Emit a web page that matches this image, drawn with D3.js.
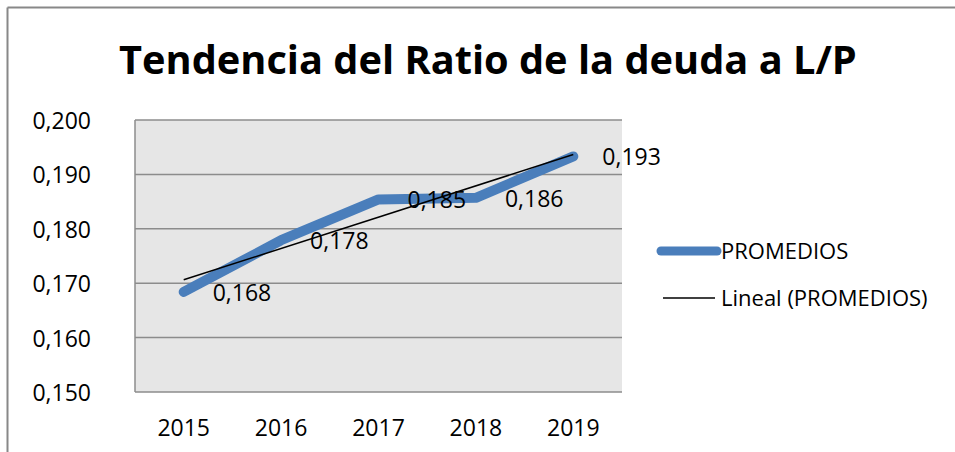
<!DOCTYPE html>
<html>
<head>
<meta charset="utf-8">
<script src="https://cdn.jsdelivr.net/npm/d3@7"></script>
<style>
  html, body { margin: 0; padding: 0; background: #fff; }
  svg text { font-family: "Open Sans", "Noto Sans", sans-serif; fill: #000; }
</style>
</head>
<body>
<svg id="chart" width="955" height="452"></svg>
<script>
const years = ['2015', '2016', '2017', '2018', '2019']
const promedios = [0.1684, 0.1779, 0.1854, 0.1857, 0.1933]
const valueLabels = ['0,168', '0,178', '0,185', '0,186', '0,193']
const yTicks = [0.150, 0.160, 0.170, 0.180, 0.190, 0.200]
const title = 'Tendencia del Ratio de la deuda a L/P'
const seriesName = 'PROMEDIOS'
const trendName = 'Lineal (PROMEDIOS)'

const width = 955
const height = 452
const margin = { top: 120, right: 333, bottom: 60, left: 135 }

const svg = d3.select('#chart')

// outer chart frame (only top and left show in the crop)
svg.append('line')
  .attr('x1', 7.5).attr('x2', width).attr('y1', 7.5).attr('y2', 7.5)
  .attr('stroke', '#888').attr('stroke-width', 2)
svg.append('line')
  .attr('x1', 7.5).attr('x2', 7.5).attr('y1', 7.5).attr('y2', height)
  .attr('stroke', '#888').attr('stroke-width', 2)

// title, sized to span the same width as the original
const titleText = svg.append('text')
  .attr('x', 119).attr('y', 74)
  .attr('font-weight', 'bold')
  .attr('font-size', 40)
  .text(title)
const tw = titleText.node().getComputedTextLength()
titleText.attr('font-size', 40 * 738 / tw)

const x = d3.scalePoint()
  .domain(years)
  .range([margin.left, width - margin.right])
  .padding(0.5)

const y = d3.scaleLinear()
  .domain([0.150, 0.200])
  .range([height - margin.bottom, margin.top])

const fmt = d => d3.format('.3f')(d).replace('.', ',')

// plot area
svg.append('rect')
  .attr('x', margin.left).attr('y', margin.top)
  .attr('width', width - margin.right - margin.left)
  .attr('height', height - margin.bottom - margin.top)
  .attr('fill', '#e6e6e6')

svg.append('g')
  .selectAll('line')
  .data(yTicks)
  .join('line')
    .attr('x1', margin.left).attr('x2', width - margin.right)
    .attr('y1', d => y(d)).attr('y2', d => y(d))
    .attr('stroke', '#8c8c8c').attr('stroke-width', 1.5)

svg.append('line')
  .attr('x1', margin.left).attr('x2', margin.left)
  .attr('y1', margin.top).attr('y2', height - margin.bottom)
  .attr('stroke', '#8c8c8c').attr('stroke-width', 1.5)

// y axis labels
svg.append('g')
  .selectAll('text')
  .data(yTicks)
  .join('text')
    .attr('x', 91)
    .attr('y', d => y(d) + 1)
    .attr('dy', '0.35em')
    .attr('text-anchor', 'end')
    .attr('font-size', 23)
    .text(fmt)

// x axis labels
svg.append('g')
  .selectAll('text')
  .data(years)
  .join('text')
    .attr('x', d => x(d))
    .attr('y', 428)
    .attr('dy', '0.35em')
    .attr('text-anchor', 'middle')
    .attr('font-size', 23)
    .text(d => d)

const points = years.map((yr, i) => ({ year: yr, value: promedios[i], label: valueLabels[i] }))

const line = d3.line()
  .x(d => x(d.year))
  .y(d => y(d.value))

svg.append('path')
  .datum(points)
  .attr('fill', 'none')
  .attr('stroke', '#4a7ebb')
  .attr('stroke-width', 10)
  .attr('stroke-linejoin', 'round')
  .attr('stroke-linecap', 'round')
  .attr('d', line)

// linear trend (least squares on the series)
const n = promedios.length
const xs = d3.range(n)
const mx = d3.mean(xs)
const my = d3.mean(promedios)
const slope = d3.sum(xs, i => (i - mx) * (promedios[i] - my)) / d3.sum(xs, i => (i - mx) * (i - mx))
const intercept = my - slope * mx
const trend = [0, n - 1].map(i => ({ year: years[i], value: intercept + slope * i }))

svg.append('path')
  .datum(trend)
  .attr('fill', 'none')
  .attr('stroke', '#000')
  .attr('stroke-width', 1.5)
  .attr('d', line)

// data labels, right of each point
svg.append('g')
  .selectAll('text')
  .data(points)
  .join('text')
    .attr('x', d => x(d.year) + 29)
    .attr('y', d => y(d.value) + 1)
    .attr('dy', '0.35em')
    .attr('font-size', 23)
    .text(d => d.label)

// legend
const legend = svg.append('g')
legend.append('line')
  .attr('x1', 661).attr('x2', 717).attr('y1', 251).attr('y2', 251)
  .attr('stroke', '#4a7ebb').attr('stroke-width', 9).attr('stroke-linecap', 'round')
legend.append('text')
  .attr('x', 721).attr('y', 251).attr('dy', '0.35em')
  .attr('font-size', 22)
  .text(seriesName)
legend.append('line')
  .attr('x1', 663).attr('x2', 715).attr('y1', 298).attr('y2', 298)
  .attr('stroke', '#000').attr('stroke-width', 1.5)
legend.append('text')
  .attr('x', 721).attr('y', 298).attr('dy', '0.35em')
  .attr('font-size', 22)
  .text(trendName)
</script>
</body>
</html>
